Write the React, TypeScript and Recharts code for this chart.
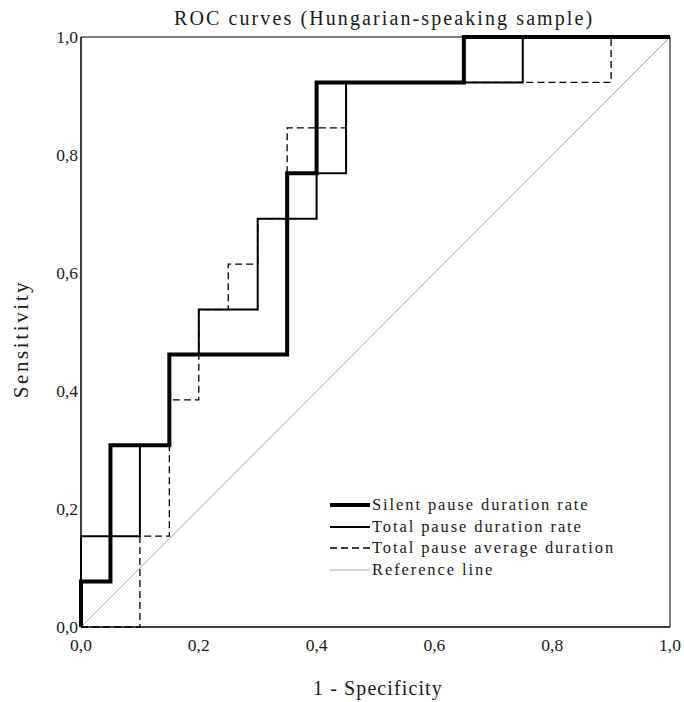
import React from "react";
import { LineChart, Line, XAxis, YAxis, ReferenceArea, Legend } from "recharts";

const SERIF = "'Liberation Serif', 'Times New Roman', 'DejaVu Serif', serif";

// axis ticks (0..1 in both directions)
const ticks = [0, 0.2, 0.4, 0.6, 0.8, 1];

// corner points of each ROC step curve: 1 - specificity (x) and sensitivity (y)
const silentX = [0, 0, 0.05, 0.05, 0.15, 0.15, 0.35, 0.35, 0.4, 0.4, 0.65, 0.65, 1];
const silentY = [0, 0.077, 0.077, 0.308, 0.308, 0.462, 0.462, 0.769, 0.769, 0.923, 0.923, 1, 1];

const totalRateX = [0, 0, 0.1, 0.1, 0.15, 0.15, 0.2, 0.2, 0.3, 0.3, 0.4, 0.4, 0.45, 0.45, 0.75, 0.75, 1];
const totalRateY = [0, 0.154, 0.154, 0.308, 0.308, 0.462, 0.462, 0.538, 0.538, 0.692, 0.692, 0.769, 0.769, 0.923, 0.923, 1, 1];

const totalAvgX = [0, 0.1, 0.1, 0.15, 0.15, 0.2, 0.2, 0.25, 0.25, 0.3, 0.3, 0.35, 0.35, 0.45, 0.45, 0.9, 0.9, 1];
const totalAvgY = [0, 0, 0.154, 0.154, 0.385, 0.385, 0.538, 0.538, 0.615, 0.615, 0.692, 0.692, 0.846, 0.846, 0.923, 0.923, 1, 1];

const refX = [0, 1];
const refY = [0, 1];

const zip = (xs: number[], ys: number[]) => xs.map((x, i) => ({ x, y: ys[i] }));

const series = [
  { name: "Silent pause duration rate", data: zip(silentX, silentY), color: "#000", width: 4, dash: undefined },
  { name: "Total pause duration rate", data: zip(totalRateX, totalRateY), color: "#000", width: 2, dash: undefined },
  { name: "Total pause average duration", data: zip(totalAvgX, totalAvgY), color: "#000", width: 1.3, dash: "7 4" },
  { name: "Reference line", data: zip(refX, refY), color: "#a6a6a6", width: 1, dash: undefined },
];

const fmt = (v: number) => v.toFixed(1).replace(".", ",");

const TXT = "#1a1a1a";

function LegendBox() {
  return (
    <div style={{ fontFamily: SERIF, fontSize: 16.5, letterSpacing: 1.9, color: TXT }}>
      {series.map((s) => (
        <div key={s.name} style={{ display: "flex", alignItems: "center", height: 21.7, whiteSpace: "nowrap" }}>
          <svg width={41} height={10} style={{ marginRight: 1 }}>
            <line x1={0} y1={5} x2={40} y2={5} stroke={s.color} strokeWidth={s.width} strokeDasharray={s.dash} />
          </svg>
          <span>{s.name}</span>
        </div>
      ))}
    </div>
  );
}

export default function App() {
  return (
    <div style={{ position: "absolute", left: 0, top: 0, width: 684, height: 702, background: "#fff", fontFamily: SERIF }}>
      <div style={{ position: "absolute", left: 174, top: 5, lineHeight: "26px", fontSize: 20, letterSpacing: 2.1, whiteSpace: "nowrap", color: TXT }}>
        ROC curves (Hungarian-speaking sample)
      </div>
      <div style={{ position: "absolute", left: 313, top: 675, lineHeight: "26px", fontSize: 20, letterSpacing: 1.1, whiteSpace: "nowrap", color: TXT }}>
        1 - Specificity
      </div>
      <div
        style={{
          position: "absolute", left: 21 - 80, top: 339 - 13, width: 160, lineHeight: "26px", fontSize: 21, letterSpacing: 2.6,
          textAlign: "center", transform: "rotate(-90deg)", whiteSpace: "nowrap", color: TXT,
        }}
      >
        Sensitivity
      </div>
      <LineChart width={684} height={702} margin={{ top: 37, right: 14, left: 20, bottom: 45 }} style={{ fontFamily: SERIF }}>
        <XAxis
          type="number"
          dataKey="x"
          domain={[0, 1]}
          ticks={ticks}
          tickFormatter={fmt}
          tickLine={false}
          tickSize={0}
          tickMargin={12}
          height={30}
          axisLine={{ stroke: "#000" }}
          tick={{ fill: TXT, fontSize: 17.5, fontFamily: SERIF }}
        />
        <YAxis
          type="number"
          dataKey="y"
          domain={[0, 1]}
          ticks={ticks}
          tickFormatter={fmt}
          tickLine={false}
          tickSize={0}
          tickMargin={3}
          width={61}
          axisLine={{ stroke: "#000" }}
          tick={{ fill: TXT, fontSize: 17.5, fontFamily: SERIF }}
        />
        <ReferenceArea x1={0} x2={1} y1={0} y2={1} fill="none" fillOpacity={0} stroke="#000" strokeWidth={1} ifOverflow="visible" />
        {[...series].reverse().map((s) => (
          <Line
            key={s.name}
            data={s.data}
            dataKey="y"
            name={s.name}
            type="linear"
            stroke={s.color}
            strokeWidth={s.width}
            strokeDasharray={s.dash}
            strokeLinecap="butt"
            strokeLinejoin="miter"
            dot={false}
            activeDot={false}
            isAnimationActive={false}
          />
        ))}
        <Legend
          layout="vertical"
          align="center"
          verticalAlign="middle"
          wrapperStyle={{ position: "absolute", left: 330, top: 494, width: 320, height: 90 }}
          content={() => <LegendBox />}
        />
      </LineChart>
    </div>
  );
}
